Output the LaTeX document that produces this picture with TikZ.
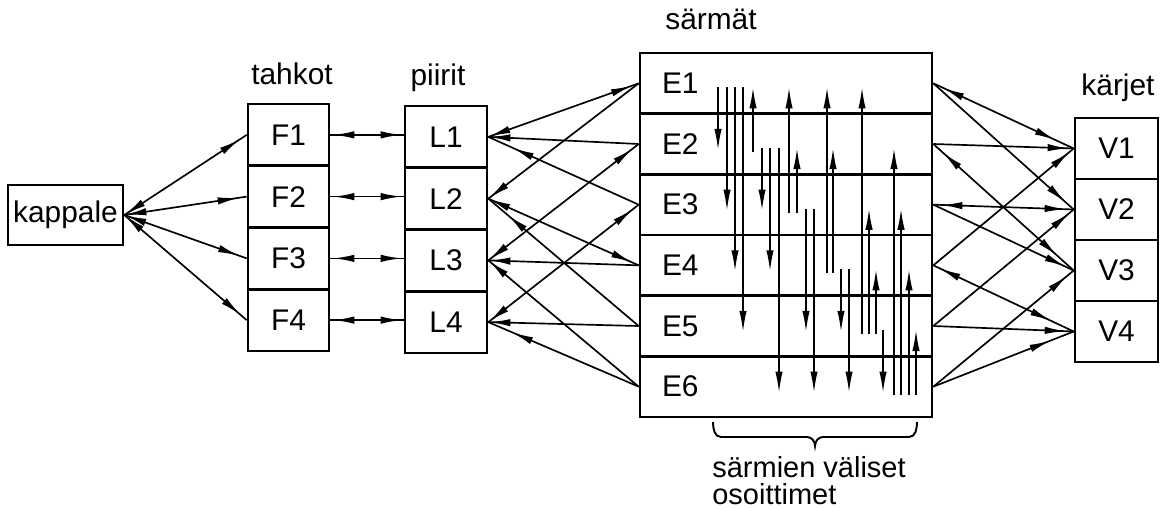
\documentclass[tikz,border=0pt]{standalone}
\usepackage{fontspec}
\setmainfont{Liberation Sans}
\usetikzlibrary{arrows.meta,decorations.markings}

% one drawing unit
\def\pxu{0.02cm}

\begin{document}
\begin{tikzpicture}[x=\pxu, y=-\pxu,
  lbl/.style={font=\fontsize{17}{20}\selectfont},
  title/.style={lbl, inner sep=0pt, anchor=base},
  cell/.style={draw, line width=1.5pt, inner sep=0pt, lbl},
  frow/.style={cell, minimum width=81*\pxu, minimum height=61.75*\pxu},
  lrow/.style={cell, minimum width=82*\pxu, minimum height=61.75*\pxu},
  erow/.style={cell, minimum width=292*\pxu, minimum height=60.67*\pxu},
  vrow/.style={cell, minimum width=83*\pxu, minimum height=61*\pxu},
  ln/.style={line width=0.95pt},
  ptr/.style={line width=0.95pt, -{Latex[length=12pt,width=4.2pt]}},
  tipS/.style={postaction={decorate,decoration={markings,
      mark=at position {#1*0.5669pt} with {\arrowreversed{Latex[length=12pt,width=4.2pt]}}}}},
  tipE/.style={postaction={decorate,decoration={markings,
      mark=at position {-#1*0.5669pt} with {\arrow{Latex[length=12pt,width=4.2pt]}}}}},
]
\useasboundingbox (0,0) rectangle (1162,509);

% the solid
\node[cell, minimum width=115*\pxu, minimum height=60*\pxu] (kappale) at (65.5,215) {kappale};

% faces, loops, edges, vertices
\foreach \k in {1,...,4} {
  \node[frow] (F\k) at (288.5,{104+61.75*(\k-0.5)}) {F\k};
  \node[lrow] (L\k) at (446,{106+61.75*(\k-0.5)}) {L\k};
  \node[vrow] (V\k) at (1116.5,{118+61*(\k-0.5)}) {V\k};
}
\foreach \k in {1,...,6}
  \node[erow, label={[lbl, inner sep=0pt, anchor=west, xshift=23*\pxu]west:E\k}]
    (E\k) at (786,{53+60.67*(\k-0.5)}) {};

% column headings
\node[title] (tahkot) at (292,85) {tahkot};
\node[title] (piirit) at (438,86) {piirit};
\node[title] (sarmat) at (711,30) {särmät};
\node[title] (karjet) at (1118,96) {kärjet};

% solid -- faces
\foreach \k in {1,...,4}
  \draw[ln, tipS=1, tipE=8] (kappale.east) -- (F\k.west);

% faces -- loops
\foreach \k in {1,...,4}
  \draw[ln, tipS=3, tipE=2] (F\k.east) -- (F\k.east -| L\k.west);

% loops -- edges
\draw[ln, tipS=1, tipE=7] (L1.east) -- (E1.west);
\draw[ln, tipS=1] (L2.east) -- (E1.west);
\draw[ln, tipS=1] (L1.east) -- (E2.west);
\draw[ln, tipS=1, tipE=7] (L3.east) -- (E2.west);
\draw[ln, tipS=27] (L1.east) -- (E3.west);
\draw[ln, tipS=1, tipE=7] (L4.east) -- (E3.west);
\draw[ln, tipS=1, tipE=7] (L2.east) -- (E4.west);
\draw[ln, tipS=1] (L3.east) -- (E4.west);
\draw[ln, tipS=26] (L2.east) -- (E5.west);
\draw[ln, tipS=1] (L4.east) -- (E5.west);
\draw[ln, tipS=1] (L3.east) -- (E6.west);
\draw[ln, tipS=26] (L4.east) -- (E6.west);

% edges -- vertices
\draw[ln, tipS=11, tipE=20] (E1.east) -- (V1.west);
\draw[ln, tipE=11] (E1.east) -- (V2.west);
\draw[ln, tipE=5] (E2.east) -- (V1.west);
\draw[ln, tipS=13, tipE=22] (E2.east) -- (V3.west);
\draw[ln, tipS=8, tipE=8] (E3.east) -- (V2.west);
\draw[ln, tipE=9] (E3.east) -- (V3.west);
\draw[ln, tipE=5] (E4.east) -- (V1.west);
\draw[ln, tipS=7, tipE=25] (E4.east) -- (V4.west);
\draw[ln, tipE=5] (E5.east) -- (V2.west);
\draw[ln, tipE=8] (E5.east) -- (V4.west);
\draw[ln, tipE=8] (E6.east) -- (V3.west);
\draw[ln, tipE=25] (E6.east) -- (V4.west);

% pointers between edges: downward (x / from row / to row)
\foreach \x/\a/\b in {718/1/2, 727/1/3, 735/1/4, 743/1/5,
                      762/2/3, 770/2/4, 779/2/6,
                      806/3/5, 814/3/6, 841/4/5, 849/4/6, 883/5/6}
  \draw[ptr] (\x,{53+60.67*(\a-0.5)+4}) -- (\x,{53+60.67*(\b-0.5)+6});
% upward (x / target row / source row)
\foreach \x/\a/\b in {753/1/2, 789/1/3, 797/2/3, 827/1/4, 833/2/4,
                      862/1/5, 869/3/5, 876/4/5,
                      894/2/6, 901/3/6, 909/4/6, 916/5/6}
  \draw[ptr] (\x,{53+60.67*(\b-0.5)+8}) -- (\x,{53+60.67*(\a-0.5)+4});

% brace under the pointer area
\draw[line width=1.1pt] (713,422) to[out=-90,in=180] (721,437) -- (807,437)
  to[out=0,in=90] (815,446) to[out=90,in=180] (823,437) -- (909,437)
  to[out=0,in=-90] (917,422);
\node[lbl, inner sep=0pt, anchor=north west, align=left,
      font=\fontsize{16.5}{15.6}\selectfont] (pointers) at (712,456)
  {särmien väliset\\osoittimet};
\end{tikzpicture}
\end{document}
